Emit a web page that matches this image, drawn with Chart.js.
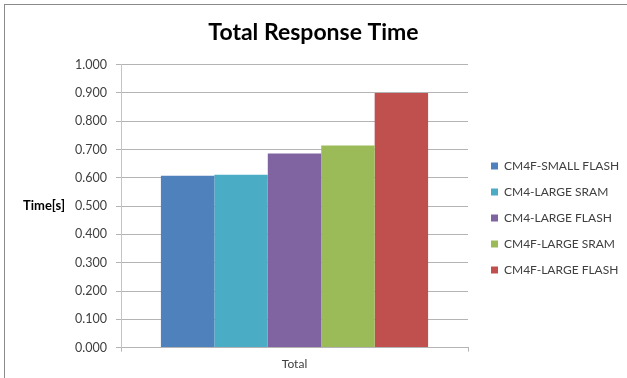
<!DOCTYPE html>
<html lang="en">
<head>
    <meta charset="UTF-8">
    <title>Total Response Time</title>
    <script src="https://cdn.jsdelivr.net/npm/chart.js"></script>
    <style>
        body {
            margin: 0;
            padding: 0;
            background: #ffffff;
        }
        .wrap {
            position: relative;
            width: 627px;
            height: 378px;
        }
        .frame {
            position: absolute;
            left: 4px;
            top: 4px;
            right: 0;
            bottom: 0;
            border-top: 1px solid #8a8a8a;
            border-left: 1px solid #8a8a8a;
            pointer-events: none;
        }
    </style>
</head>
<body>

<div class="wrap">
    <canvas id="responseChart" width="627" height="378"></canvas>
    <div class="frame"></div>
</div>

<script>
    // data
    const categories = ["Total"];
    const seriesNames = ["CM4F-SMALL FLASH", "CM4-LARGE SRAM", "CM4-LARGE FLASH", "CM4F-LARGE SRAM", "CM4F-LARGE FLASH"];
    const seriesValues = [0.607, 0.611, 0.686, 0.714, 0.900];
    const seriesColors = ["#4F81BD", "#4BACC6", "#8064A2", "#9BBB59", "#C0504D"];
    const yTicks = [0, 0.1, 0.2, 0.3, 0.4, 0.5, 0.6, 0.7, 0.8, 0.9, 1.0];

    const fontFamily = "Lato, 'Open Sans', sans-serif";

    // fix legend box width and nudge its items so the plot area ends where it does in the original
    const legendTweak = {
        id: "legendTweak",
        beforeUpdate(chart) {
            const legend = chart.legend;
            if (legend && !legend._tweaked) {
                const fit = legend.fit;
                legend.fit = function () {
                    fit.call(this);
                    this.width = 159;
                };
                legend._tweaked = true;
            }
        },
        afterLayout(chart) {
            chart.legend.left += 9;
            chart.legend.top += 30;
            chart.legend.bottom += 30;
        }
    };

    // horizontal axis title on the left, like the spreadsheet version
    const axisTitle = {
        id: "axisTitle",
        afterDraw(chart) {
            const ctx = chart.ctx;
            const area = chart.chartArea;
            ctx.save();
            ctx.font = "bold 13px " + fontFamily;
            ctx.fillStyle = "#000000";
            ctx.textAlign = "left";
            ctx.textBaseline = "middle";
            ctx.fillText("Time[s]", 23, (area.top + area.bottom) / 2);
            ctx.restore();
        }
    };

    const datasets = seriesNames.map((name, i) => ({
        label: name,
        data: [seriesValues[i]],
        backgroundColor: seriesColors[i],
        borderWidth: 0
    }));

    new Chart(document.getElementById("responseChart"), {
        type: "bar",
        data: {
            labels: categories,
            datasets: datasets
        },
        options: {
            responsive: false,
            animation: false,
            categoryPercentage: 0.77,
            barPercentage: 1.0,
            layout: {
                padding: { left: 0, right: 0, top: 0, bottom: 2 }
            },
            plugins: {
                title: {
                    display: true,
                    text: "Total Response Time",
                    color: "#000000",
                    font: { family: fontFamily, size: 23, weight: "bold" },
                    padding: { top: 19, bottom: 18 }
                },
                legend: {
                    position: "right",
                    labels: {
                        boxWidth: 7,
                        boxHeight: 7,
                        padding: 14,
                        color: "#404040",
                        font: { family: fontFamily, size: 12 }
                    }
                },
                tooltip: { enabled: false }
            },
            scales: {
                x: {
                    grid: {
                        display: true,
                        drawOnChartArea: false,
                        tickLength: 4,
                        color: "#b4b4b4"
                    },
                    border: { color: "#b4b4b4" },
                    ticks: {
                        color: "#404040",
                        padding: 5,
                        font: { family: fontFamily, size: 12 }
                    }
                },
                y: {
                    min: 0,
                    max: 1.0,
                    afterBuildTicks(scale) {
                        scale.ticks = yTicks.map(v => ({ value: v }));
                    },
                    afterFit(scale) {
                        scale.width = 121;
                    },
                    grid: {
                        color: "#b4b4b4",
                        tickLength: 5
                    },
                    border: { color: "#c4c4c4", width: 1 },
                    ticks: {
                        color: "#404040",
                        padding: 9,
                        font: { family: fontFamily, size: 12.5 },
                        callback: v => v.toFixed(3)
                    }
                }
            }
        },
        plugins: [legendTweak, axisTitle]
    });
</script>

</body>
</html>
